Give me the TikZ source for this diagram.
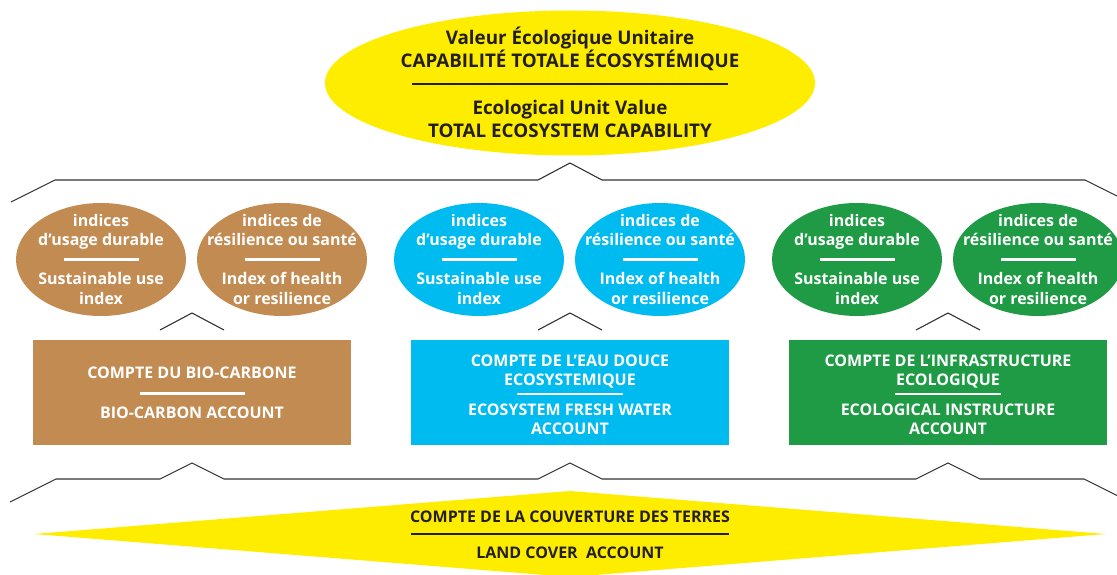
\documentclass[tikz,border=0pt]{standalone}
\usepackage{fontspec}
\setmainfont{Open Sans}
\usetikzlibrary{shapes.geometric}
\definecolor{bioc}{RGB}{194,139,82}
\definecolor{eauc}{RGB}{0,187,240}
\definecolor{infc}{RGB}{30,155,68}
\definecolor{jaune}{RGB}{255,237,0}
\definecolor{encre}{RGB}{35,31,32}
\newcommand\hstrut{\rule{0pt}{1em}}
\newcommand\dstrut{\rule[-0.286em]{0pt}{0.286em}}
\newcommand\sepline[2]{\rule[\dimexpr0.357em-#2/2\relax]{#1}{#2}}

\begin{document}
\begin{tikzpicture}[x=1pt, y=-1pt,
	pill/.style={ellipse, minimum width=170pt, minimum height=113pt, inner sep=0pt},
	acct/.style={minimum width=318pt, minimum height=105pt, inner sep=0pt, text=white, align=center, font=\bfseries\fontsize{16}{19}\selectfont},
	wtxt/.style={text=white, align=center, inner sep=0pt, font=\bfseries\fontsize{16}{19.5}\selectfont},
	btxt/.style={text=encre, align=center, inner sep=0pt, font=\bfseries\fontsize{18.8}{23.3}\selectfont},
	bracket/.style={draw=black!80, line width=1.1pt, line join=miter}]
	\useasboundingbox (0,0) rectangle (1117,575);
	\clip (0,0) rectangle (1117,575);
	% total capability
	\node[ellipse, fill=jaune, minimum width=490pt, minimum height=145pt, inner sep=0pt] (cap) at (570,83) {};
	\node[btxt] (cap-t) at (570,84) {\hstrut Valeur Écologique Unitaire\\CAPABILITÉ TOTALE ÉCOSYSTÉMIQUE\\\sepline{316pt}{1.3pt}\\Ecological Unit Value\\TOTAL ECOSYSTEM CAPABILITY\dstrut};
	\draw[bracket] (11,202) -- (55,180) -- (538,180) -- (570,163) -- (602,180) -- (1085,180) -- (1129,202);
	% indices
	\foreach \c/\n/\x in {bioc/bio/192, eauc/eau/570, infc/inf/948}{
		\node[pill, fill=\c] (\n-use) at (\x-91,259.5) {};
		\node[pill, fill=\c] (\n-res) at (\x+90,259.5) {};
		\node[wtxt] (\n-use-t) at (\n-use) {\hstrut indices\\d’usage durable\\\sepline{75pt}{2.5pt}\\Sustainable use\\index\dstrut};
		\node[wtxt] (\n-res-t) at (\n-res) {\hstrut indices de\\résilience ou santé\\\sepline{75pt}{2.5pt}\\Index of health\\or resilience\dstrut};
		\draw[bracket] (\x-32,330) -- (\x,313) -- (\x+32,330);
	}
	% accounts
	\node[acct, fill=bioc] (bio-acc) at (192,392.5) {\hstrut COMPTE DU BIO-CARBONE\\[2pt]\sepline{105pt}{2.5pt}\\BIO-CARBON ACCOUNT\dstrut};
	\node[acct, fill=eauc] (eau-acc) at (570,392.5) {\rule{0pt}{1.3em}COMPTE DE L’EAU DOUCE\\ECOSYSTEMIQUE\\[-5pt]\sepline{106pt}{2.5pt}\\[-3pt]ECOSYSTEM FRESH WATER\\ACCOUNT\dstrut};
	\node[acct, fill=infc] (inf-acc) at (948,392.5) {\rule{0pt}{1.3em}COMPTE DE L’INFRASTRUCTURE\\ECOLOGIQUE\\[-5pt]\sepline{106pt}{2.5pt}\\[-3pt]ECOLOGICAL INSTRUCTURE\\ACCOUNT\dstrut};
	\draw[bracket] (10,502) -- (56,479) -- (160,479) -- (192,463) -- (224,479) -- (538,479) -- (570,463) -- (602,479) -- (916,479) -- (948,463) -- (980,479) -- (1084,479) -- (1130,502);
	% land cover
	\fill[jaune] (34,534) -- (570,491) -- (1106,534) -- (570,577) -- cycle;
	\node[btxt, font=\bfseries\fontsize{16}{18}\selectfont] (land) at (570,535) {\hstrut COMPTE DE LA COUVERTURE DES TERRES\\[-1pt]\sepline{318pt}{1.3pt}\\[1pt]LAND COVER\ \ ACCOUNT\dstrut};
\end{tikzpicture}
\end{document}
